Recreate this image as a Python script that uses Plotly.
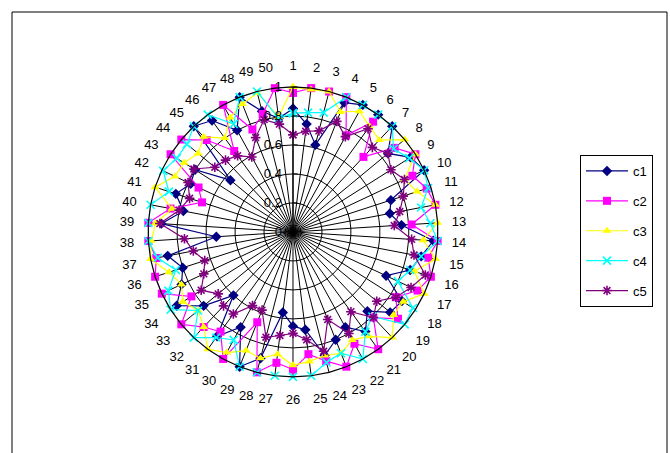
import plotly.graph_objects as go

# Category axis: 50 spokes labelled 1..50
categories = [str(i) for i in range(1, 51)]

c1 = [0.85, 0.75, 0.62, 0.96, 1.00, 1.00, 1.00, 0.85, 0.96, 1.00,
      0.71, 0.68, 0.75, 0.97, 0.90, 0.85, 0.71, 0.89, 0.87, 0.75,
      0.85, 0.75, 0.80, 0.88, 0.68, 0.65, 0.56, 0.90, 1.00, 0.75,
      0.89, 0.60, 0.80, 0.95, 0.85, 0.80, 0.88, 0.53, 0.91, 0.77,
      0.85, 0.78, 0.80, 0.56, 1.00, 0.95, 0.80, 1.00, 0.86, 0.79]

c2 = [0.96, 1.00, 1.00, 1.00, 0.76, 0.94, 0.71, 0.91, 1.00, 0.91,
      0.97, 1.00, 0.82, 1.00, 0.95, 1.00, 0.95, 0.84, 0.94, 0.81,
      1.00, 0.88, 1.00, 0.92, 0.85, 0.95, 0.91, 1.00, 0.67, 1.00,
      0.85, 0.90, 1.00, 0.83, 1.00, 1.00, 0.96, 1.00, 1.00, 0.86,
      0.66, 0.72, 1.00, 1.00, 0.87, 0.69, 1.00, 0.76, 0.84, 1.00]

c3 = [1.00, 0.99, 1.00, 0.89, 0.95, 0.90, 0.87, 1.00, 1.00, 0.85,
      0.90, 1.00, 1.00, 0.90, 1.00, 0.88, 1.00, 0.90, 0.90, 1.00,
      0.89, 0.85, 0.90, 0.88, 0.90, 0.92, 0.85, 0.90, 0.88, 0.95,
      1.00, 0.90, 0.85, 0.90, 0.85, 0.90, 1.00, 0.98, 0.95, 0.85,
      1.00, 0.90, 0.89, 0.85, 0.90, 0.80, 0.90, 0.95, 0.99, 0.80]

c4 = [0.82, 0.83, 0.85, 1.00, 1.00, 1.00, 1.00, 0.90, 0.95, 1.00,
      0.98, 0.90, 0.95, 1.00, 0.90, 0.85, 0.80, 0.98, 1.00, 0.80,
      0.85, 1.00, 0.90, 0.93, 1.00, 1.00, 1.00, 1.00, 1.00, 0.85,
      0.90, 1.00, 0.85, 1.00, 0.95, 0.85, 0.95, 1.00, 1.00, 1.00,
      0.90, 0.99, 0.95, 0.95, 1.00, 1.00, 0.85, 1.00, 1.00, 0.79]

c5 = [0.67, 0.70, 0.72, 0.82, 0.75, 0.88, 0.80, 0.85, 0.80, 0.85,
      0.80, 0.75, 0.70, 0.82, 0.85, 0.96, 0.90, 0.84, 0.75, 0.81,
      0.68, 0.80, 0.65, 0.85, 0.75, 0.70, 0.72, 0.75, 0.58, 0.58,
      0.70, 0.70, 0.67, 0.75, 0.68, 0.64, 0.70, 0.75, 0.92, 0.80,
      0.75, 0.80, 0.81, 0.70, 0.68, 0.65, 0.59, 0.70, 0.80, 0.75]

series_names = ["c1", "c2", "c3", "c4", "c5"]
series_values = [c1, c2, c3, c4, c5]
series_colors = ["#000080", "#FF00FF", "#FFFF00", "#00FFFF", "#800080"]
series_symbols = ["diamond", "square", "triangle-up", "x-thin", "asterisk"]

fig = go.Figure()
for name, vals, col, sym in zip(series_names, series_values, series_colors, series_symbols):
    closed_theta = categories + [categories[0]]
    closed_r = vals + [vals[0]]
    marker = dict(symbol=sym, size=8, color=col)
    if sym in ("x-thin", "asterisk"):
        marker.update(line=dict(color=col, width=1.6))
    fig.add_trace(go.Scatterpolar(
        r=closed_r, theta=closed_theta, name=name, legendgroup=name,
        mode="lines+markers", line=dict(color=col, width=1.2),
        marker=marker, subplot="polar",
    ))

# empty trace so the overlay subplot carrying the value labels is rendered
fig.add_trace(go.Scatterpolar(r=[], theta=[], subplot="polar2",
                              showlegend=False, hoverinfo="skip"))

plot_domain = dict(x=[0.2209, 0.6537], y=[0.168, 0.808])

fig.update_layout(
    width=670, height=453,
    margin=dict(l=0, r=0, t=0, b=0),
    paper_bgcolor="white", plot_bgcolor="white",
    font=dict(family="Liberation Sans, Arial, sans-serif", size=12, color="black"),
    polar=dict(
        domain=plot_domain,
        bgcolor="white",
        gridshape="linear",
        angularaxis=dict(
            type="category", categoryarray=categories,
            direction="clockwise", rotation=90,
            showline=True, linecolor="black", linewidth=1.2,
            gridcolor="black", gridwidth=1.2,
            ticks="outside", ticklen=11, tickcolor="rgba(0,0,0,0)",
            tickfont=dict(size=13, color="black"),
        ),
        radialaxis=dict(
            range=[0, 1], dtick=0.2, angle=90,
            showline=True, linecolor="black", linewidth=1.2,
            gridcolor="black", gridwidth=1.2,
            ticks="outside", ticklen=4, tickcolor="black",
            showticklabels=False,
        ),
    ),
    # value labels of the radial axis, drawn on top of the series
    polar2=dict(
        domain=plot_domain,
        bgcolor="rgba(0,0,0,0)",
        gridshape="linear",
        angularaxis=dict(
            type="category", categoryarray=categories,
            direction="clockwise", rotation=90,
            visible=False, showgrid=False, showline=False,
        ),
        radialaxis=dict(
            range=[0, 1], dtick=0.2, angle=90, tickangle=90,
            showgrid=False, showline=False,
            ticks="outside", ticklen=6, tickcolor="rgba(0,0,0,0)",
            tickfont=dict(size=13, color="black"),
            side="counterclockwise",
        ),
    ),
    showlegend=True,
    legend=dict(
        x=580 / 670, y=1 - 155 / 453, xanchor="left", yanchor="top",
        bordercolor="black", borderwidth=1, bgcolor="white",
        font=dict(size=13, color="black"),
        tracegroupgap=10, itemwidth=42,
    ),
    shapes=[dict(
        type="rect", xref="paper", yref="paper",
        x0=12 / 670, x1=667 / 670, y0=-0.02, y1=1 - 12 / 453,
        line=dict(color="black", width=1),
    )],
)

fig.write_html("out.html")
